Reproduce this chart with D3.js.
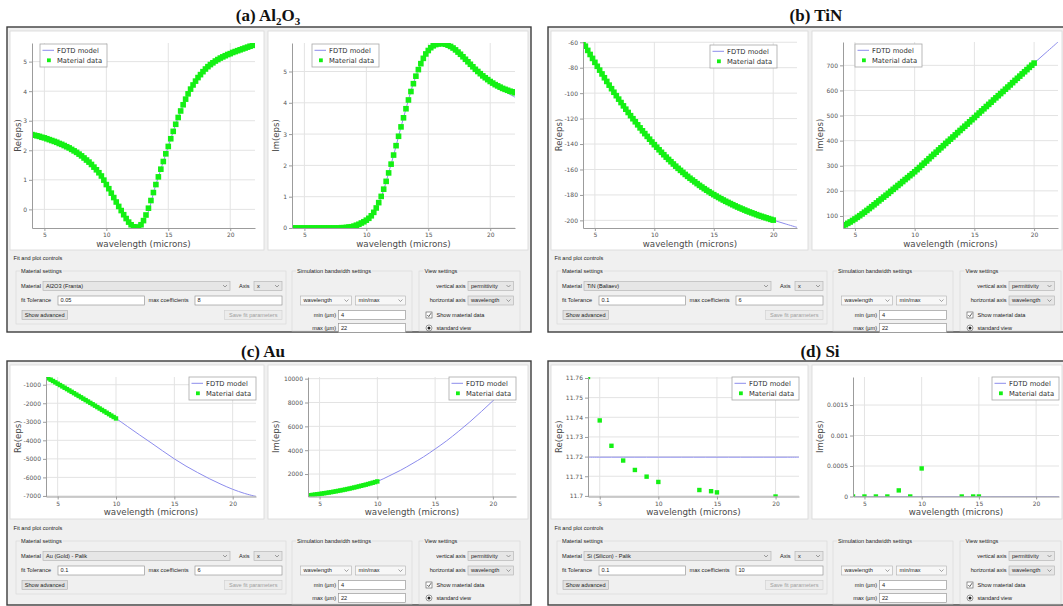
<!DOCTYPE html>
<html>
<head>
<meta charset="utf-8">
<script src="https://cdn.jsdelivr.net/npm/d3@7"></script>
<style>
  body { margin: 0; background: #fff; }
  svg { display: block; }
</style>
</head>
<body>
<svg id="fig" width="1063" height="606"></svg>
<script>
// ---------- data ----------
// sampling grid of the tabulated material data (microns)
const dataWavelength = [4,4.2,4.4,4.6,4.8,5,5.2,5.4,5.6,5.8,6,6.2,6.4,6.6,6.8,7,7.2,7.4,7.6,7.8,8,8.2,8.4,8.6,8.8,9,9.2,9.4,9.6,9.8,10,10.2,10.4,10.6,10.8,11,11.2,11.4,11.6,11.8,12,12.2,12.4,12.6,12.8,13,13.2,13.4,13.6,13.8,14,14.2,14.4,14.6,14.8,15,15.2,15.4,15.6,15.8,16,16.2,16.4,16.6,16.8,17,17.2,17.4,17.6,17.8,18,18.2,18.4,18.6,18.8,19,19.2,19.4,19.6,19.8,20,20.2,20.4,20.6,20.8,21,21.2,21.4,21.6,21.8,22];
// grid of the fitted FDTD model curves (microns)
const modelWavelength = [4,5,6,7,8,9,10,11,12,13,14,15,16,17,18,19,20,21,22];

// Al2O3 (Franta)
const al2o3ReData = [2.53,2.51,2.49,2.47,2.44,2.42,2.39,2.36,2.33,2.30,2.27,2.23,2.20,2.16,2.12,2.08,2.03,1.98,1.93,1.87,1.81,1.74,1.67,1.60,1.52,1.43,1.34,1.24,1.13,0.99,0.84,0.70,0.55,0.40,0.25,0.10,-0.04,-0.18,-0.31,-0.43,-0.52,-0.59,-0.62,-0.60,-0.52,-0.38,-0.19,0.04,0.30,0.57,0.84,1.10,1.36,1.62,1.88,2.13,2.39,2.64,2.88,3.11,3.33,3.54,3.73,3.91,4.07,4.21,4.34,4.46,4.56,4.66,4.75,4.83,4.90,4.96,5.02,5.07,5.12,5.16,5.20,5.24,5.27,5.31,5.34,5.37,5.40,5.43,5.46,5.49,5.52,5.55,5.58];
const al2o3ImData = [0,0,0,0,0,0,0,0,0,0,0,0,0,0,0,0,0,0,0,0,0.01,0.01,0.02,0.03,0.04,0.06,0.09,0.12,0.16,0.20,0.25,0.31,0.39,0.50,0.64,0.81,1.01,1.24,1.49,1.76,2.04,2.33,2.63,2.93,3.23,3.52,3.81,4.09,4.36,4.61,4.85,5.06,5.25,5.42,5.56,5.67,5.76,5.82,5.86,5.88,5.89,5.89,5.87,5.84,5.80,5.75,5.69,5.62,5.55,5.47,5.39,5.31,5.23,5.15,5.07,5.00,4.93,4.86,4.80,4.74,4.68,4.63,4.58,4.54,4.50,4.46,4.43,4.40,4.37,4.35,4.32];
const al2o3ReModel = [2.53,2.42,2.27,2.08,1.81,1.43,0.84,0.10,-0.52,-0.38,0.84,2.13,3.33,4.21,4.75,5.07,5.27,5.43,5.58];
const al2o3ImModel = [0,0,0,0,0.01,0.06,0.25,0.81,2.04,3.52,4.85,5.67,5.89,5.75,5.39,5.00,4.66,4.40,4.18];

// TiN (Baliaev), tabulated 4-20 um
const tinReData = [-59.8,-63.1,-66.4,-69.6,-72.7,-75.8,-78.9,-81.9,-84.9,-87.9,-90.8,-93.7,-96.5,-99.3,-102.0,-104.7,-107.4,-110.0,-112.6,-115.2,-117.7,-120.1,-122.5,-124.9,-127.3,-129.6,-131.8,-134.0,-136.2,-138.4,-140.5,-142.5,-144.5,-146.5,-148.4,-150.3,-152.1,-153.9,-155.7,-157.4,-159.1,-160.7,-162.3,-163.9,-165.4,-166.9,-168.3,-169.7,-171.1,-172.5,-173.8,-175.1,-176.3,-177.5,-178.7,-179.8,-180.9,-182.0,-183.0,-184.0,-185.0,-185.9,-186.8,-187.7,-188.6,-189.5,-190.3,-191.1,-191.9,-192.7,-193.4,-194.1,-194.8,-195.5,-196.2,-196.8,-197.4,-198.0,-198.6,-199.2,-199.8];
const tinImData = [60,65,70.5,76,82,88,94.5,101,108,115,122,129.5,137,144.5,152,160,167.5,175,182.5,190,198,206,213.5,221.5,229,237,245,252.5,260.5,268,276,284.5,293,302,310.5,319,328,337,345.5,354,363,371.5,380,389,397.5,406,414.5,423,432,440.5,449,457.5,466,475,483.5,492,501,510,518.5,527,536,544.5,553,562,570.5,579,587.5,596,605,613.5,622,631,640,648.5,657,666,674.5,683,692,700.5,709];
const tinReModel = [-59.8,-75.8,-90.8,-104.7,-117.7,-129.6,-140.5,-150.3,-159.1,-166.9,-173.8,-179.8,-185.0,-189.5,-193.4,-196.8,-199.8,-202.7,-205.5];
const tinImModel = [54,88,122,160,198,237,276,319,363,406,449,492,536,579,622,666,709,751,793];

// Au (Gold) - Palik, tabulated 4-10 um
const auReData = [-584,-656,-728,-800,-872,-945,-1018,-1091,-1164,-1237,-1310,-1384,-1458,-1532,-1606,-1680,-1755,-1830,-1905,-1980,-2055,-2131,-2207,-2283,-2359,-2435,-2512,-2589,-2666,-2743,-2820];
const auImData = [200,225,251,277,303,330,359,388,418,449,480,515,550,586,623,660,700,741,783,826,870,917,964,1013,1061,1110,1162,1215,1269,1324,1380];
const auReModel = [-584,-945,-1310,-1680,-2055,-2435,-2820,-3260,-3700,-4130,-4570,-5000,-5390,-5740,-6070,-6370,-6640,-6860,-7030];
const auImModel = [200,330,480,660,870,1110,1380,1830,2310,2860,3440,4100,4790,5560,6370,7240,8140,9080,10060];

// Si (Silicon) - Palik, sparse tabulated points
const siReWavelength = [4,5,6,7,8,9,10,13.5,14.5,15,20];
const siReData = [11.7605,11.7384,11.7255,11.718,11.7132,11.7098,11.7071,11.703,11.7024,11.7018,11.6997];
const siImWavelength = [4,5,6,7,8,9,10,13.5,14.5,15];
const siImData = [0,0,0,0,0.0001,0,0.00046,0,0,0];
const siReModel = [11.7197,11.7197,11.7197,11.7197,11.7197,11.7197,11.7197,11.7197,11.7197,11.7197,11.7197,11.7197,11.7197,11.7197,11.7197,11.7197,11.7197,11.7197,11.7197];
const siImModel = [0,0,0,0,0,0,0,0,0,0,0,0,0,0,0,0,0,0,0];

// axis ranges and ticks
const xRange = [4, 22];
const xTicks = [5, 10, 15, 20];
const al2o3ReRange = [-0.63, 5.63], al2o3ReTicks = [0, 1, 2, 3, 4, 5];
const al2o3ImRange = [0, 5.91],     al2o3ImTicks = [0, 1, 2, 3, 4, 5];
const tinReRange = [-206, -59.8],   tinReTicks = [-200, -180, -160, -140, -120, -100, -80, -60];
const tinImRange = [52, 793],       tinImTicks = [100, 200, 300, 400, 500, 600, 700];
const auReRange = [-7030, -584],    auReTicks = [-7000, -6000, -5000, -4000, -3000, -2000, -1000];
const auImRange = [116, 10140],     auImTicks = [2000, 4000, 6000, 8000, 10000];
const siReRange = [11.6997, 11.7605], siReTicks = [11.7, 11.71, 11.72, 11.73, 11.74, 11.75, 11.76];
const siImRange = [0, 0.00196],     siImTicks = [0, 0.0005, 0.001, 0.0015];

// texts
const xAxisTitle = "wavelength (microns)";
const yAxisTitles = ["Re(eps)", "Im(eps)"];
const legendLabels = ["FDTD model", "Material data"];
const panelTitles = [
  [["(a) Al", 0], ["2", 1], ["O", 0], ["3", 1]],
  [["(b) TiN", 0]],
  [["(c) Au", 0]],
  [["(d) Si", 0]]
];
const materialNames = ["Al2O3 (Franta)", "TiN (Baliaev)", "Au (Gold) - Palik", "Si (Silicon) - Palik"];
const fitTolerances = ["0.05", "0.1", "0.1", "0.1"];
const maxCoefficients = ["8", "6", "6", "10"];
const bandwidthMin = "4", bandwidthMax = "22";

// ---------- layout ----------
const PLOT_FONT = "'DejaVu Sans', sans-serif";
const UI_FONT = "'Liberation Sans', Arial, sans-serif";
const dataColor = "#14f014";
const modelColor = "#8c8cec";
const svg = d3.select("#fig");

const panels = [
  { x: 7,   y: 27,  w: 524, h: 305, titleX: 268, titleY: 21,  canvasTop: 31,  canvasBottom: 250, ctrlY: 258, marker: 5.6, canvasX: [[10, 264], [268, 528]] },
  { x: 548, y: 27,  w: 520, h: 305, titleX: 816, titleY: 21,  canvasTop: 31,  canvasBottom: 250, ctrlY: 258, marker: 5.6, canvasX: [[551, 808], [812, 1062]] },
  { x: 7,   y: 361, w: 524, h: 244, titleX: 263, titleY: 357, canvasTop: 365, canvasBottom: 519, ctrlY: 528, marker: 4.4, canvasX: [[10, 264], [268, 528]] },
  { x: 548, y: 361, w: 520, h: 244, titleX: 820, titleY: 357, canvasTop: 365, canvasBottom: 519, ctrlY: 528, marker: 4.4, canvasX: [[551, 808], [812, 1062]] }
];

const charts = [
  { panel: 0, side: 0, dx: dataWavelength, dy: al2o3ReData, my: al2o3ReModel, yr: al2o3ReRange, yt: al2o3ReTicks, plot: [32, 255, 43, 228], legend: [40, 44] },
  { panel: 0, side: 1, dx: dataWavelength, dy: al2o3ImData, my: al2o3ImModel, yr: al2o3ImRange, yt: al2o3ImTicks, plot: [292, 515, 43, 228], legend: [312, 44] },
  { panel: 1, side: 0, dx: dataWavelength, dy: tinReData, my: tinReModel, yr: tinReRange, yt: tinReTicks, plot: [583, 797, 42, 228], legend: [710, 45] },
  { panel: 1, side: 1, dx: dataWavelength, dy: tinImData, my: tinImModel, yr: tinImRange, yt: tinImTicks, plot: [843, 1058, 42, 228], legend: [855, 44] },
  { panel: 2, side: 0, dx: dataWavelength, dy: auReData, my: auReModel, yr: auReRange, yt: auReTicks, plot: [46, 256, 377, 496.5], legend: [189, 377] },
  { panel: 2, side: 1, dx: dataWavelength, dy: auImData, my: auImModel, yr: auImRange, yt: auImTicks, plot: [308, 516, 377, 496.5], legend: [449, 377] },
  { panel: 3, side: 0, dx: siReWavelength, dy: siReData, my: siReModel, yr: siReRange, yt: siReTicks, plot: [588, 799, 377, 496.5], legend: [732, 377] },
  { panel: 3, side: 1, dx: siImWavelength, dy: siImData, my: siImModel, yr: siImRange, yt: siImTicks, plot: [853, 1059, 377, 496.5], legend: [992, 377] }
];

// ---------- panel frames and titles ----------
panels.forEach((p, i) => {
  svg.append("rect").attr("x", p.x).attr("y", p.y).attr("width", p.w).attr("height", p.h)
    .attr("fill", "#f0f0f0").attr("stroke", "#3c3c3c").attr("stroke-width", 1.4);
  p.canvasX.forEach(([a, b]) => {
    svg.append("rect").attr("x", a).attr("y", p.canvasTop).attr("width", b - a)
      .attr("height", p.canvasBottom - p.canvasTop)
      .attr("fill", "#fff").attr("stroke", "#d8d8d8").attr("stroke-width", 0.8);
  });
  const t = svg.append("text").attr("x", p.titleX).attr("y", p.titleY)
    .attr("text-anchor", "middle").attr("font-family", "'Liberation Serif', 'Times New Roman', serif")
    .attr("font-weight", "bold").attr("font-size", 17).attr("fill", "#111");
  let shifted = false;
  panelTitles[i].forEach(([s, sub]) => {
    const ts = t.append("tspan").text(s);
    if (sub && !shifted) { ts.attr("dy", 4).attr("font-size", 11); shifted = true; }
    else if (sub) { ts.attr("font-size", 11); }
    else if (shifted) { ts.attr("dy", -4); shifted = false; }
  });
});

// ---------- charts ----------
charts.forEach((c, i) => {
  const [x0, x1, y0, y1] = c.plot;
  const p = panels[c.panel];
  const x = d3.scaleLinear().domain(xRange).range([x0, x1]);
  const y = d3.scaleLinear().domain(c.yr).range([y1, y0]);
  const g = svg.append("g");

  // grid
  g.append("g").selectAll("line").data(xTicks).join("line")
    .attr("x1", d => x(d)).attr("x2", d => x(d)).attr("y1", y0).attr("y2", y1)
    .attr("stroke", "#e3e3e3").attr("stroke-width", 1);
  g.append("g").selectAll("line").data(c.yt).join("line")
    .attr("x1", x0).attr("x2", x1).attr("y1", d => y(d)).attr("y2", d => y(d))
    .attr("stroke", "#e3e3e3").attr("stroke-width", 1);

  // series, clipped to the plot area
  const clipId = "plotclip" + i;
  svg.append("clipPath").attr("id", clipId).append("rect")
    .attr("x", x0).attr("y", y0).attr("width", x1 - x0).attr("height", y1 - y0);
  const gs = g.append("g").attr("clip-path", `url(#${clipId})`);

  const line = d3.line().x(d => x(d[0])).y(d => y(d[1])).curve(d3.curveCatmullRom);
  gs.append("path").datum(d3.zip(modelWavelength, c.my))
    .attr("d", line).attr("fill", "none").attr("stroke", modelColor).attr("stroke-width", 1);

  const s = p.marker;
  gs.append("g").selectAll("rect").data(d3.zip(c.dx.slice(0, c.dy.length), c.dy)).join("rect")
    .attr("x", d => x(d[0]) - s / 2).attr("y", d => y(d[1]) - s / 2)
    .attr("width", s).attr("height", s).attr("fill", dataColor);

  // axes
  const styleAxis = sel => {
    sel.select(".domain").attr("stroke", "#9c9c9c");
    sel.selectAll(".tick line").attr("stroke", "#9c9c9c");
    sel.selectAll(".tick text").attr("fill", "#555").attr("font-size", 6)
      .attr("font-family", PLOT_FONT);
  };
  g.append("g").attr("transform", `translate(0,${y1})`)
    .call(d3.axisBottom(x).tickValues(xTicks).tickSize(3).tickSizeOuter(0).tickPadding(2).tickFormat(d3.format("d")))
    .call(styleAxis);
  g.append("g").attr("transform", `translate(${x0},0)`)
    .call(d3.axisLeft(y).tickValues(c.yt).tickSize(3).tickSizeOuter(0).tickPadding(2).tickFormat(d => String(d)))
    .call(styleAxis);

  // axis titles
  g.append("text").attr("x", (x0 + x1) / 2).attr("y", y1 + 15.5).attr("dy", "0.35em")
    .attr("text-anchor", "middle").attr("font-family", PLOT_FONT).attr("font-size", 8.7)
    .attr("fill", "#4a4a4a").text(xAxisTitle);
  const tx = p.canvasX[c.side][0] + 8, ty = (y0 + y1) / 2;
  g.append("text").attr("transform", `translate(${tx},${ty}) rotate(-90)`).attr("dy", "0.35em")
    .attr("text-anchor", "middle").attr("font-family", PLOT_FONT).attr("font-size", 8.5)
    .attr("fill", "#4a4a4a").text(yAxisTitles[c.side]);

  // legend
  const lg = g.append("g").attr("transform", `translate(${c.legend[0]},${c.legend[1]})`);
  lg.append("rect").attr("width", 67).attr("height", 23).attr("fill", "#fff")
    .attr("stroke", "#a8a8a8").attr("stroke-width", 0.8);
  lg.append("line").attr("x1", 2.5).attr("x2", 14).attr("y1", 6.3).attr("y2", 6.3)
    .attr("stroke", modelColor).attr("stroke-width", 1);
  lg.append("rect").attr("x", 7).attr("y", 14.4).attr("width", 3.8).attr("height", 3.8).attr("fill", dataColor);
  legendLabels.forEach((l, k) => {
    lg.append("text").attr("x", 17).attr("y", k ? 16.3 : 6.3).attr("dy", "0.35em")
      .attr("font-family", PLOT_FONT).attr("font-size", 6.8).attr("fill", "#333").text(l);
  });
});

// ---------- fit and plot controls ----------
function uiText(g, x, y, s, opt = {}) {
  return g.append("text").attr("x", x).attr("y", y).attr("dy", "0.35em")
    .attr("font-family", UI_FONT).attr("font-size", opt.size || 5.6)
    .attr("fill", opt.fill || "#222").attr("text-anchor", opt.anchor || "start").text(s);
}
function uiBox(g, x, y, w, h, fill, stroke) {
  return g.append("rect").attr("x", x).attr("y", y).attr("width", w).attr("height", h)
    .attr("fill", fill).attr("stroke", stroke).attr("stroke-width", 0.6);
}
function chevron(g, cx, cy) {
  g.append("path").attr("d", `M${cx - 2},${cy - 1} L${cx},${cy + 1} L${cx + 2},${cy - 1}`)
    .attr("fill", "none").attr("stroke", "#666").attr("stroke-width", 0.6);
}
function dropdown(g, x0, x1, cy, label, fill) {
  uiBox(g, x0, cy - 4.5, x1 - x0, 9, fill, "#b0b0b0");
  uiText(g, x0 + 3, cy, label);
  chevron(g, x1 - 5, cy);
}
function input(g, x0, x1, cy, value) {
  uiBox(g, x0, cy - 4.5, x1 - x0, 9, "#fff", "#8a8a8a");
  uiText(g, x0 + 2.5, cy, value);
}
function groupBox(g, x0, x1, top, bottom, label, lx) {
  uiBox(g, x0, top, x1 - x0, bottom - top, "none", "#d6d6d6");
  const t = uiText(g, lx, top, label);
  const w = t.node().getComputedTextLength();
  g.insert("rect", "text:last-child").attr("x", lx - 1).attr("y", top - 2).attr("width", w + 2)
    .attr("height", 4).attr("fill", "#f0f0f0");
}

panels.forEach((p, i) => {
  const g = svg.append("g");
  const px = p.x, cy = p.ctrlY;
  const r1 = cy + 28, r2 = cy + 42.5, r3 = cy + 57, r4 = cy + 70;
  const bottom = p.y + p.h - 1;

  uiText(g, px + 6.5, cy, "Fit and plot controls");

  // material settings
  groupBox(g, px + 9, px + 279, cy + 13, cy + 66, "Material settings", px + 14);
  uiText(g, px + 14, r1, "Material");
  dropdown(g, px + 36, px + 223, r1, materialNames[i], "#e6e6e6");
  uiText(g, px + 232, r1, "Axis");
  dropdown(g, px + 247, px + 275, r1, "x", "#e6e6e6");
  uiText(g, px + 14, r2, "fit Tolerance");
  input(g, px + 51, px + 137.5, r2, fitTolerances[i]);
  uiText(g, px + 141.5, r2, "max coefficients");
  input(g, px + 188, px + 275, r2, maxCoefficients[i]);
  uiBox(g, px + 15, r3 - 4.5, 45.5, 9, "#e1e1e1", "#adadad");
  uiText(g, px + 37.7, r3, "Show advanced", { anchor: "middle" });
  uiBox(g, px + 217.5, r3 - 4.5, 57.5, 9, "#ececec", "#cfcfcf");
  uiText(g, px + 246.2, r3, "Save fit parameters", { anchor: "middle", fill: "#a0a0a0" });

  // simulation bandwidth settings
  groupBox(g, px + 285, px + 405, cy + 13, bottom, "Simulation bandwidth settings", px + 290);
  dropdown(g, px + 293.5, px + 344.5, r2, "wavelength", "#f7f7f7");
  dropdown(g, px + 348.5, px + 398.5, r2, "min/max", "#f7f7f7");
  uiText(g, px + 329, r3, "min (\u00b5m)", { anchor: "end" });
  input(g, px + 331.5, px + 398.5, r3, bandwidthMin);
  uiText(g, px + 329, r4, "max (\u00b5m)", { anchor: "end" });
  input(g, px + 331.5, px + 398.5, r4, bandwidthMax);

  // view settings
  groupBox(g, px + 412, px + 513, cy + 13, bottom, "View settings", px + 417.5);
  uiText(g, px + 458.5, r1, "vertical axis", { anchor: "end" });
  dropdown(g, px + 461, px + 506.5, r1, "permittivity", "#e6e6e6");
  uiText(g, px + 458.5, r2, "horizontal axis", { anchor: "end" });
  dropdown(g, px + 461, px + 506.5, r2, "wavelength", "#e6e6e6");
  uiBox(g, px + 419, r3 - 3, 6, 6, "#fff", "#555");
  g.append("path").attr("d", `M${px + 420.3},${r3} L${px + 421.8},${r3 + 1.6} L${px + 424},${r3 - 1.8}`)
    .attr("fill", "none").attr("stroke", "#222").attr("stroke-width", 0.7);
  uiText(g, px + 429.5, r3, "Show material data");
  g.append("circle").attr("cx", px + 422).attr("cy", r4).attr("r", 3)
    .attr("fill", "#fff").attr("stroke", "#555").attr("stroke-width", 0.6);
  g.append("circle").attr("cx", px + 422).attr("cy", r4).attr("r", 1.5).attr("fill", "#222");
  uiText(g, px + 429.5, r4, "standard view");
});
</script>
</body>
</html>
